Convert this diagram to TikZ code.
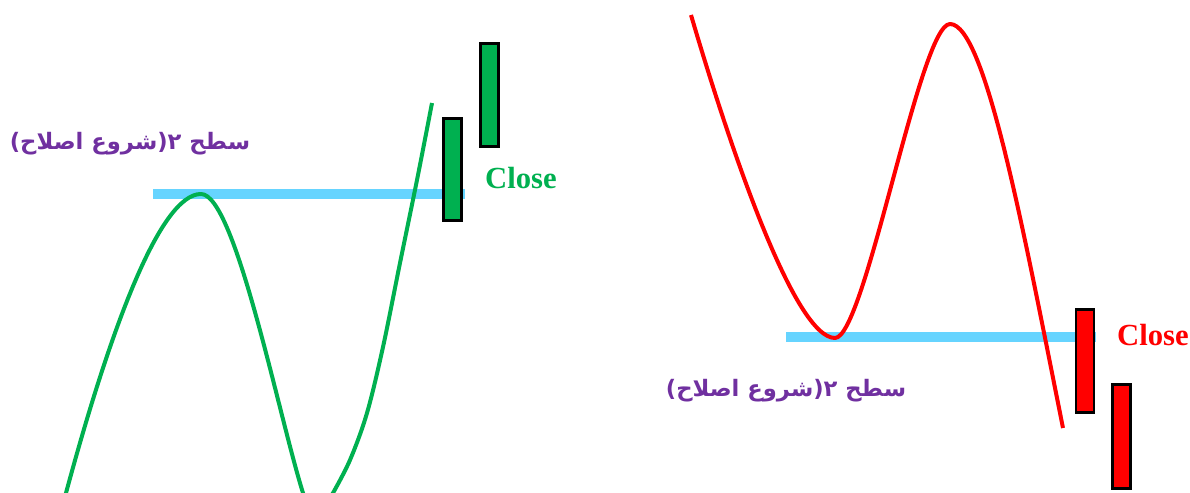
\documentclass[tikz,border=0pt]{standalone}
\usepackage{fontspec}
\setmainfont{Liberation Serif}
\newfontfamily\arabicfont[Script=Arabic]{DejaVu Sans}
\TeXXeTstate=1
\definecolor{levelblue}{HTML}{66D4FF}
\definecolor{upgreen}{HTML}{00B050}
\definecolor{downred}{HTML}{FF0000}
\definecolor{labelpurple}{HTML}{7030A0}
\tikzset{
  candle/.style={draw=black, line width=2.2pt, inner sep=0pt, minimum width=13.5pt},
  level/.style={levelblue, line width=7.5pt},
  pricepath/.style={line width=3pt, line join=round},
  closelabel/.style={font=\fontsize{23}{26}\selectfont\bfseries, inner sep=0pt},
  persianlabel/.style={text=labelpurple, font=\arabicfont\fontsize{17}{20}\selectfont\bfseries, inner sep=0pt}
}
\begin{document}
\begin{tikzpicture}[x=0.75pt,y=-0.75pt]
\useasboundingbox (0,0) rectangle (1190,493);
% ---------------- left (green) ----------------
\coordinate (gl1) at (153,194);
\coordinate (gl2) at (465,194);
\draw[level] (gl1) -- (gl2);
\begin{scope}
\clip (0,0) rectangle (1190,493);
\draw[pricepath, upgreen] (62,506) -- (66,493)
  .. controls (110,330) and (160,194) .. (201,194)
  .. controls (235,194) and (278,413) .. (303,493)
  .. controls (311,519) and (323,512) .. (333,493)
  -- plot[smooth, tension=0.55] coordinates {(333,493) (350,460) (367,413) (383,347) (400,263) (417,180) (432,103)};
\end{scope}
\node[candle, fill=upgreen, minimum height=76.5pt] (g1) at (452.5,169.5) {};
\node[candle, fill=upgreen, minimum height=77.25pt] (g2) at (489.5,95) {};
\node[closelabel, text=upgreen] (gc) at (521,178) {Close};
\node[persianlabel] (gt) at (130,144) {\beginR سطح ۲(شروع اصلاح)\endR};
% ---------------- right (red) ----------------
\coordinate (rl1) at (786,336.5);
\coordinate (rl2) at (1096,336.5);
\draw[level] (rl1) -- (rl2);
\draw[pricepath, downred] (691,15)
  .. controls (731,151) and (795,338) .. (835,338)
  .. controls (865,338) and (920,24) .. (950,24)
  .. controls (985,24) and (1023,228) .. (1063,428);
\node[candle, fill=downred, minimum height=77.25pt] (r1) at (1085,361) {};
\node[candle, fill=downred, minimum height=78pt] (r2) at (1121.5,436.5) {};
\node[closelabel, text=downred] (rc) at (1153,335) {Close};
\node[persianlabel] (rt) at (786,391) {\beginR سطح ۲(شروع اصلاح)\endR};
\end{tikzpicture}
\end{document}
